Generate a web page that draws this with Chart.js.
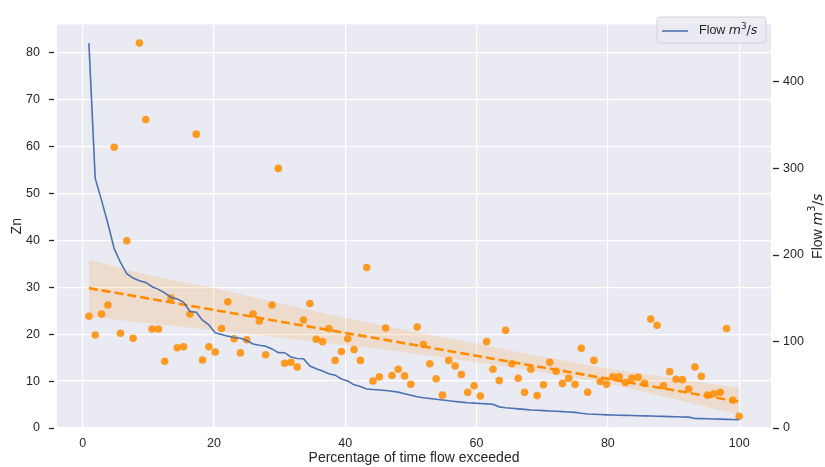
<!DOCTYPE html>
<html><head><meta charset="utf-8">
<script src="https://cdn.jsdelivr.net/npm/chart.js@4.4.1/dist/chart.umd.min.js"></script>
<style>html,body{margin:0;padding:0;background:#fff}#wrap{width:825px;height:467px;position:relative}</style>
</head><body><div id="wrap"><canvas id="c" width="825" height="467"></canvas></div>
<script>
const pct = [0.96,1.92,2.88,3.85,4.81,5.77,6.73,7.69,8.65,9.62,
10.58,11.54,12.50,13.46,14.42,15.38,16.35,17.31,18.27,19.23,
20.19,21.15,22.12,23.08,24.04,25.00,25.96,26.92,27.88,28.85,
29.81,30.77,31.73,32.69,33.65,34.62,35.58,36.54,37.50,38.46,
39.42,40.38,41.35,42.31,43.27,44.23,45.19,46.15,47.12,48.08,
49.04,50.00,50.96,51.92,52.88,53.85,54.81,55.77,56.73,57.69,
58.65,59.62,60.58,61.54,62.50,63.46,64.42,65.38,66.35,67.31,
68.27,69.23,70.19,71.15,72.12,73.08,74.04,75.00,75.96,76.92,
77.88,78.85,79.81,80.77,81.73,82.69,83.65,84.62,85.58,86.54,
87.50,88.46,89.42,90.38,91.35,92.31,93.27,94.23,95.19,96.15,
97.12,98.08,99.04,100.00];
const zn = [23.8,19.8,24.3,26.2,59.8,20.2,39.9,19.1,82.0,65.7,
21.1,21.1,14.2,27.7,17.1,17.3,24.3,62.6,14.5,17.3,
16.2,21.2,26.9,19.0,16.0,18.8,24.3,22.8,15.6,26.2,
55.3,13.8,14.0,13.0,23.0,26.5,18.9,18.4,21.2,14.4,
16.3,19.0,16.7,14.4,34.2,10.0,10.9,21.3,11.2,12.5,
11.1,9.3,21.5,17.8,13.7,10.5,7.0,14.4,13.2,11.4,
7.6,9.0,6.8,18.4,12.5,10.1,20.8,13.7,10.6,7.6,
12.5,6.9,9.2,14.0,12.1,9.5,10.6,9.3,17.0,7.6,
14.4,9.9,9.3,10.9,10.9,9.7,10.6,10.8,9.5,23.2,
21.9,9.0,12.0,10.4,10.3,8.3,13.0,11.0,7.0,7.3,
7.6,21.2,5.9,2.5];
const flow = [444,288,263,236,207,191,178,173,170,168,
163,160,156,151,149,145,134.5,133.5,124.5,119,
110,108,106,104.5,103.5,101,97,95.5,94.3,91.3,
87,86.9,82,80.3,80,71.5,68.5,65.8,62.5,61,
56.5,54.3,49.8,47.9,45,44.5,43.8,43.2,42.5,41.4,
39.5,37.7,36,34.9,34,33.2,32.4,31.4,30.6,29.9,
29.2,28.7,28.3,27.9,27.3,24.4,23.3,22.8,22.1,21.5,
20.8,20.4,20.1,19.7,19.3,18.9,18.5,18.0,17.0,16.2,
15.9,15.5,15.2,15.0,14.8,14.6,14.4,14.2,14.0,13.8,
13.6,13.4,13.1,12.9,12.7,12.5,11.0,10.8,10.6,10.4,
10.2,10.0,9.8,9.6];
const fitX = [0.96, 100];
const fitY = [29.8, 5.6];
const bandX = [0.96, 10, 20, 30, 40, 50, 60, 70, 80, 90, 100];
const bandUpper = [35.8, 32.6, 29.8, 26.6, 23.5, 20.6, 18.0, 15.2, 12.7, 10.6, 8.6];
const bandLower = [23.7, 22.3, 20.8, 19.3, 17.7, 16.0, 14.0, 11.9, 9.5, 6.2, 2.8];
const xTicks = [0, 20, 40, 60, 80, 100];
const znTicks = [0, 10, 20, 30, 40, 50, 60, 70, 80];
const flowTicks = [0, 100, 200, 300, 400];

const pts = (xs, ys) => xs.map((x, i) => ({x: x, y: ys[i]}));
const TXT = '#262626';
const SANS = 'Arial, "Liberation Sans", sans-serif';

const decor = {
  id: 'decor',
  beforeDraw(chart) {
    const {ctx, chartArea: a} = chart;
    ctx.save();
    ctx.fillStyle = '#EAEAF2';
    ctx.fillRect(a.left, a.top, a.right - a.left, a.bottom - a.top);
    ctx.restore();
  },
  afterDraw(chart) {
    const {ctx, chartArea: a} = chart;
    const yL = chart.scales.y, yR = chart.scales.yR;
    ctx.save();
    // tick dashes
    ctx.strokeStyle = TXT; ctx.lineWidth = 1.3;
    znTicks.forEach(v => { const p = Math.round(yL.getPixelForValue(v)) + 0.5; ctx.beginPath(); ctx.moveTo(a.left - 8, p); ctx.lineTo(a.left - 3, p); ctx.stroke(); });
    flowTicks.forEach(v => { const p = Math.round(yR.getPixelForValue(v)) + 0.5; ctx.beginPath(); ctx.moveTo(a.right + 2, p); ctx.lineTo(a.right + 8, p); ctx.stroke(); });
    // mixed-style text helper
    function segs(size) {
      return [
        {t: 'Flow ', f: size + 'px ' + SANS, dy: 0},
        {t: 'm', f: 'italic ' + size + 'px "DejaVu Sans", sans-serif', dy: 0},
        {t: '3', f: (size * 0.7) + 'px "DejaVu Sans", sans-serif', dy: -size * 0.38},
        {t: '/', f: size + 'px "DejaVu Sans", sans-serif', dy: 0},
        {t: 's', f: 'italic ' + size + 'px "DejaVu Sans", sans-serif', dy: 0}
      ];
    }
    function drawSegs(list, x, y, center) {
      ctx.textBaseline = 'middle'; ctx.textAlign = 'left'; ctx.fillStyle = TXT;
      let w = 0;
      list.forEach(s => { ctx.font = s.f; s.w = ctx.measureText(s.t).width; w += s.w; });
      let cx = center ? x - w / 2 : x;
      list.forEach(s => { ctx.font = s.f; ctx.fillText(s.t, cx, y + s.dy); cx += s.w; });
    }
    // right axis title (bottom-to-top)
    ctx.save();
    ctx.translate(818, (a.top + a.bottom) / 2);
    ctx.rotate(-Math.PI / 2);
    drawSegs(segs(14), 0, 0, true);
    ctx.restore();
    // legend
    const lx = 657, ly = 17, lw = 109, lh = 26, r = 3;
    ctx.beginPath();
    ctx.moveTo(lx + r, ly); ctx.lineTo(lx + lw - r, ly); ctx.quadraticCurveTo(lx + lw, ly, lx + lw, ly + r);
    ctx.lineTo(lx + lw, ly + lh - r); ctx.quadraticCurveTo(lx + lw, ly + lh, lx + lw - r, ly + lh);
    ctx.lineTo(lx + r, ly + lh); ctx.quadraticCurveTo(lx, ly + lh, lx, ly + lh - r);
    ctx.lineTo(lx, ly + r); ctx.quadraticCurveTo(lx, ly, lx + r, ly); ctx.closePath();
    ctx.fillStyle = 'rgba(234,234,242,0.85)'; ctx.fill();
    ctx.strokeStyle = '#D2D2DA'; ctx.lineWidth = 1; ctx.stroke();
    const ds = chart.data.datasets[0];
    ctx.strokeStyle = ds.borderColor; ctx.lineWidth = ds.borderWidth;
    ctx.beginPath(); ctx.moveTo(662, 31); ctx.lineTo(688, 31); ctx.stroke();
    drawSegs(segs(12.5), 699, 31, false);
    ctx.restore();
  }
};

new Chart(document.getElementById('c'), {
  type: 'line',
  data: {
    datasets: [
      {label: 'Flow m³/s', data: pts(pct, flow), yAxisID: 'yR', borderColor: '#4C72B0', borderWidth: 1.6, pointRadius: 0, fill: false, order: 0, tension: 0},
      {label: 'fit', data: pts(fitX, fitY), yAxisID: 'y', borderColor: '#FF8C00', borderWidth: 2.6, borderDash: [9, 4], pointRadius: 0, fill: false, order: 1},
      {label: 'Zn', type: 'scatter', data: pts(pct, zn), yAxisID: 'y', backgroundColor: 'rgba(255,140,0,0.85)', borderWidth: 0, pointRadius: 3.8, order: 2},
      {label: 'ci upper', data: pts(bandX, bandUpper), yAxisID: 'y', borderWidth: 0, borderColor: 'rgba(0,0,0,0)', pointRadius: 0, fill: '+1', backgroundColor: 'rgba(255,140,0,0.15)', order: 3},
      {label: 'ci lower', data: pts(bandX, bandLower), yAxisID: 'y', borderWidth: 0, borderColor: 'rgba(0,0,0,0)', pointRadius: 0, fill: false, order: 4}
    ]
  },
  options: {
    responsive: false,
    animation: false,
    devicePixelRatio: 1,
    layout: {padding: {top: 10, left: 0, right: 0, bottom: 0}},
    plugins: {legend: {display: false}, tooltip: {enabled: false}},
    scales: {
      x: {
        type: 'linear', position: 'bottom', min: -3.9, max: 104.85,
        afterBuildTicks: s => { s.ticks = xTicks.map(v => ({value: v})); },
        afterFit: s => { s.height = 39; },
        grid: {color: '#FFFFFF', lineWidth: 1.2, drawTicks: false},
        border: {display: false},
        ticks: {color: TXT, font: {size: 12.5, family: SANS}, padding: 8, maxRotation: 0},
        title: {display: true, text: 'Percentage of time flow exceeded', color: TXT, font: {size: 14, family: SANS}, padding: {top: 0, bottom: 0}}
      },
      y: {
        type: 'linear', position: 'left', min: 0, max: 85.96,
        afterBuildTicks: s => { s.ticks = znTicks.map(v => ({value: v})); },
        afterFit: s => { s.width = 57; },
        grid: {color: '#FFFFFF', lineWidth: 1.2, drawTicks: false},
        border: {display: false},
        ticks: {color: TXT, font: {size: 12.5, family: SANS}, padding: 17},
        title: {display: true, text: 'Zn', color: TXT, font: {size: 14, family: SANS}, padding: {top: 9, bottom: 0}}
      },
      yR: {
        type: 'linear', position: 'right', min: 0, max: 465.7,
        afterBuildTicks: s => { s.ticks = flowTicks.map(v => ({value: v})); },
        afterFit: s => { s.width = 54; },
        grid: {display: false, drawTicks: false},
        border: {display: false},
        ticks: {color: TXT, font: {size: 12.5, family: SANS}, padding: 12}
      }
    }
  },
  plugins: [decor]
});
</script>
</body></html>
